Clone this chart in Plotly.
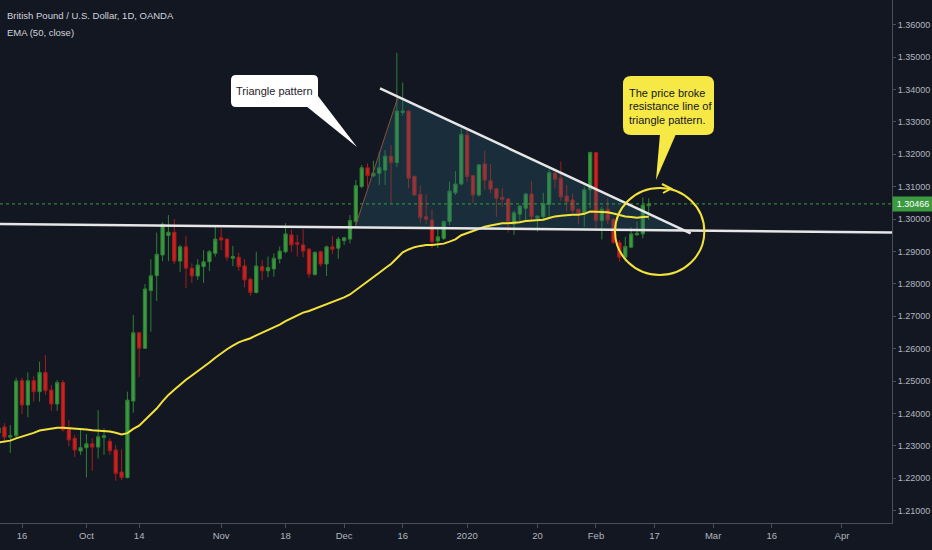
import plotly.graph_objects as go

# ---------------- data ----------------
dates = [
    "2019-09-10", "2019-09-11", "2019-09-12", "2019-09-13", "2019-09-16", "2019-09-17", "2019-09-18",
    "2019-09-19", "2019-09-20", "2019-09-23", "2019-09-24", "2019-09-25", "2019-09-26", "2019-09-27",
    "2019-09-30",
    "2019-10-01", "2019-10-02", "2019-10-03", "2019-10-04", "2019-10-07", "2019-10-08", "2019-10-09",
    "2019-10-10", "2019-10-11", "2019-10-14", "2019-10-15", "2019-10-16", "2019-10-17", "2019-10-18",
    "2019-10-21", "2019-10-22", "2019-10-23", "2019-10-24", "2019-10-25", "2019-10-28", "2019-10-29",
    "2019-10-30", "2019-10-31",
    "2019-11-01", "2019-11-04", "2019-11-05", "2019-11-06", "2019-11-07", "2019-11-08", "2019-11-11",
    "2019-11-12", "2019-11-13", "2019-11-14", "2019-11-15", "2019-11-18", "2019-11-19", "2019-11-20",
    "2019-11-21", "2019-11-22", "2019-11-25", "2019-11-26", "2019-11-27", "2019-11-28", "2019-11-29",
    "2019-12-02", "2019-12-03", "2019-12-04", "2019-12-05", "2019-12-06", "2019-12-09", "2019-12-10",
    "2019-12-11", "2019-12-12", "2019-12-13", "2019-12-16", "2019-12-17", "2019-12-18", "2019-12-19",
    "2019-12-20", "2019-12-23", "2019-12-24", "2019-12-26", "2019-12-27", "2019-12-30", "2019-12-31",
    "2020-01-02", "2020-01-03", "2020-01-06", "2020-01-07", "2020-01-08", "2020-01-09", "2020-01-10",
    "2020-01-13", "2020-01-14", "2020-01-15", "2020-01-16", "2020-01-17", "2020-01-20", "2020-01-21",
    "2020-01-22", "2020-01-23", "2020-01-24", "2020-01-27", "2020-01-28", "2020-01-29", "2020-01-30",
    "2020-01-31",
    "2020-02-03", "2020-02-04", "2020-02-05", "2020-02-06", "2020-02-07", "2020-02-10", "2020-02-11",
    "2020-02-12", "2020-02-13", "2020-02-14",
]

opens = [
    1.2340, 1.2358, 1.2327, 1.2331, 1.2501, 1.2426, 1.2501, 1.2467, 1.2526, 1.2472, 1.2429, 1.2495, 1.2351, 1.2323, 1.2284,
    1.2294, 1.2306, 1.2296, 1.2326, 1.2314, 1.2287, 1.2219, 1.2202, 1.2438, 1.2649, 1.2601, 1.2779, 1.2825, 1.2889,
    1.2949, 1.2959, 1.2870, 1.2914, 1.2848, 1.2824, 1.2853, 1.2868, 1.2894,
    1.2942, 1.2938, 1.2879, 1.2882, 1.2855, 1.2814, 1.2773, 1.2853, 1.2840, 1.2846, 1.2877, 1.2899, 1.2951, 1.2927,
    1.2920, 1.2907, 1.2829, 1.2899, 1.2861, 1.2914, 1.2910,
    1.2933, 1.2938, 1.2992, 1.3100, 1.3158, 1.3133, 1.3141, 1.3151, 1.3194, 1.3174, 1.3329, 1.3333, 1.3131, 1.3076,
    1.3007, 1.2997, 1.2932, 1.2940, 1.2992, 1.3081, 1.3108,
    1.3259, 1.3134, 1.3074, 1.3170, 1.3118, 1.3093, 1.3067, 1.3062, 1.2984, 1.3015, 1.3033, 1.3077, 1.3002, 1.3007,
    1.3045, 1.3141, 1.3126, 1.3071, 1.3059, 1.3030, 1.3018, 1.3090,
    1.3205, 1.2995, 1.3030, 1.2999, 1.2927, 1.2882, 1.2913, 1.2951, 1.2954, 1.3041,
]
highs = [
    1.2365, 1.2370, 1.2364, 1.2510, 1.2510, 1.2527, 1.2515, 1.2560, 1.2580, 1.2488, 1.2503, 1.2503, 1.2380, 1.2333, 1.2349,
    1.2336, 1.2323, 1.2410, 1.2354, 1.2323, 1.2302, 1.2289, 1.2467, 1.2704, 1.2651, 1.2799, 1.2876, 1.2958, 1.2989,
    1.3012, 1.3000, 1.2920, 1.2948, 1.2863, 1.2876, 1.2904, 1.2904, 1.2976,
    1.2971, 1.2940, 1.2917, 1.2896, 1.2876, 1.2819, 1.2899, 1.2873, 1.2884, 1.2894, 1.2915, 1.2987, 1.2968, 1.2951,
    1.2968, 1.2910, 1.2900, 1.2902, 1.2918, 1.2948, 1.2945,
    1.2945, 1.3012, 1.3120, 1.3167, 1.3172, 1.3180, 1.3208, 1.3213, 1.3228, 1.3513, 1.3421, 1.3336, 1.3135, 1.3103,
    1.3076, 1.3030, 1.2971, 1.2995, 1.3115, 1.3148, 1.3280,
    1.3275, 1.3136, 1.3170, 1.3211, 1.3170, 1.3095, 1.3095, 1.3064, 1.3026, 1.3043, 1.3081, 1.3117, 1.3010, 1.3081,
    1.3153, 1.3146, 1.3177, 1.3105, 1.3079, 1.3032, 1.3100, 1.3208,
    1.3207, 1.3038, 1.3064, 1.3001, 1.2935, 1.2945, 1.2974, 1.2992, 1.3067, 1.3064,
]
lows = [
    1.2328, 1.2309, 1.2278, 1.2322, 1.2398, 1.2388, 1.2436, 1.2436, 1.2457, 1.2408, 1.2408, 1.2344, 1.2299, 1.2266, 1.2272,
    1.2202, 1.2223, 1.2261, 1.2272, 1.2272, 1.2192, 1.2194, 1.2199, 1.2402, 1.2513, 1.2599, 1.2652, 1.2747, 1.2870,
    1.2870, 1.2861, 1.2837, 1.2786, 1.2802, 1.2812, 1.2803, 1.2839, 1.2884,
    1.2904, 1.2871, 1.2855, 1.2840, 1.2789, 1.2763, 1.2770, 1.2812, 1.2820, 1.2822, 1.2863, 1.2894, 1.2899, 1.2884,
    1.2882, 1.2819, 1.2825, 1.2853, 1.2824, 1.2892, 1.2877,
    1.2920, 1.2925, 1.2981, 1.3095, 1.3097, 1.3130, 1.3105, 1.3105, 1.3048, 1.3160, 1.3319, 1.3095, 1.3072, 1.2987,
    1.2984, 1.2910, 1.2910, 1.2935, 1.2981, 1.3074, 1.3104,
    1.3115, 1.3050, 1.3069, 1.3090, 1.3079, 1.3007, 1.3038, 1.2958, 1.2951, 1.2992, 1.2997, 1.2992, 1.2961, 1.2997,
    1.3007, 1.3095, 1.3056, 1.3023, 1.3019, 1.2985, 1.2976, 1.3033,
    1.2968, 1.2937, 1.2985, 1.2925, 1.2868, 1.2868, 1.2910, 1.2949, 1.2940, 1.2997,
]
closes = [
    1.2355, 1.2327, 1.2331, 1.2500, 1.2426, 1.2501, 1.2467, 1.2526, 1.2470, 1.2429, 1.2495, 1.2349, 1.2318, 1.2287, 1.2294,
    1.2306, 1.2296, 1.2328, 1.2331, 1.2285, 1.2215, 1.2202, 1.2441, 1.2649, 1.2601, 1.2784, 1.2825, 1.2891, 1.2984,
    1.2959, 1.2870, 1.2914, 1.2848, 1.2824, 1.2858, 1.2868, 1.2899, 1.2938,
    1.2935, 1.2882, 1.2884, 1.2853, 1.2812, 1.2773, 1.2855, 1.2840, 1.2850, 1.2879, 1.2901, 1.2954, 1.2920, 1.2922,
    1.2901, 1.2830, 1.2897, 1.2861, 1.2914, 1.2907, 1.2938,
    1.2942, 1.2995, 1.3103, 1.3158, 1.3134, 1.3141, 1.3158, 1.3194, 1.3174, 1.3333, 1.3333, 1.3126, 1.3074, 1.3004,
    1.2999, 1.2930, 1.2945, 1.2992, 1.3086, 1.3108, 1.3261,
    1.3131, 1.3074, 1.3167, 1.3120, 1.3092, 1.3064, 1.3061, 1.2992, 1.3019, 1.3040, 1.3077, 1.3007, 1.3009, 1.3048,
    1.3143, 1.3123, 1.3069, 1.3053, 1.3026, 1.3018, 1.3090, 1.3205,
    1.2995, 1.3030, 1.2997, 1.2927, 1.2882, 1.2915, 1.2954, 1.2956, 1.3043, 1.30466,
]
ema50 = [
    1.2310, 1.2313, 1.2316, 1.2323, 1.2328, 1.2335, 1.2340, 1.2347, 1.2350, 1.2353, 1.2356, 1.2356, 1.2355, 1.2353, 1.2351,
    1.2350, 1.2348, 1.2347, 1.2346, 1.2344, 1.2340, 1.2335, 1.2339, 1.2352, 1.2362, 1.2379, 1.2396, 1.2415, 1.2437,
    1.2457, 1.2473, 1.2490, 1.2504, 1.2517, 1.2530, 1.2543, 1.2557, 1.2572,
    1.2586, 1.2598, 1.2609, 1.2619, 1.2626, 1.2632, 1.2641, 1.2649, 1.2656, 1.2665, 1.2674, 1.2685, 1.2694, 1.2703,
    1.2711, 1.2716, 1.2723, 1.2728, 1.2736, 1.2742, 1.2750,
    1.2758, 1.2767, 1.2780, 1.2795, 1.2808, 1.2821, 1.2834, 1.2848, 1.2861, 1.2879, 1.2897, 1.2906, 1.2913, 1.2917,
    1.2920, 1.2920, 1.2921, 1.2924, 1.2930, 1.2937, 1.2950,
    1.2957, 1.2962, 1.2970, 1.2976, 1.2980, 1.2984, 1.2987, 1.2987, 1.2988, 1.2990, 1.2994, 1.2995, 1.2996, 1.2998,
    1.3003, 1.3008, 1.3010, 1.3012, 1.3013, 1.3013, 1.3016, 1.3023,
    1.3022, 1.3022, 1.3021, 1.3017, 1.3012, 1.3008, 1.3006, 1.3004, 1.3006, 1.3007,
]
last_price = 1.30466

x_tick_vals = ["2019-09-16", "2019-10-01", "2019-10-14", "2019-11-01", "2019-11-18", "2019-12-02", "2019-12-16",
               "2020-01-02", "2020-01-20", "2020-02-03", "2020-02-17", "2020-03-02", "2020-03-16", "2020-04-01"]
x_tick_text = ["16", "Oct", "14", "Nov", "18", "Dec", "16", "2020", "20", "Feb", "17", "Mar", "16", "Apr"]
y_tick_vals = [1.21, 1.22, 1.23, 1.24, 1.25, 1.26, 1.27, 1.28, 1.29, 1.30, 1.31, 1.32, 1.33, 1.34, 1.35, 1.36]
y_tick_text = ["%.5f" % v for v in y_tick_vals]
holidays = ["2019-12-25", "2020-01-01"]

# drawings (date, price)
x_view = ["2019-09-10 05:51", "2020-04-13 12:58"]
support_line = [("2019-09-10 05:51", 1.29846), ("2020-04-13 12:58", 1.29583)]
resistance_line = [("2019-12-10 02:53", 1.34034), ("2020-02-25 04:05", 1.29559)]
triangle_pts = [("2019-12-03 20:38", 1.29741), ("2019-12-13 04:48", 1.33775), ("2020-02-24 03:50", 1.29645)]
ellipse_box = [("2020-02-06 06:00", 1.28272), ("2020-02-27 12:00", 1.30957)]

assert len(dates) == len(opens) == len(highs) == len(lows) == len(closes) == len(ema50)

# ---------------- layout helpers ----------------
W, H = 932, 550
ML, MR, MT, MB = 0, 40, 0, 27
PW, PH = W - ML - MR, H - MT - MB
BG = "#131722"
FONT = "Liberation Sans, Arial, sans-serif"


def px(x):
    return x / PW


def py(y):
    return 1 - y / PH


def rrect(x0, y0, x1, y1, r):
    rx, ry = r / PW, r / PH
    a, b, c, d = px(x0), py(y0), px(x1), py(y1)
    return (f"M {a+rx},{b} L {c-rx},{b} Q {c},{b} {c},{b-ry} L {c},{d+ry} Q {c},{d} {c-rx},{d} "
            f"L {a+rx},{d} Q {a},{d} {a},{d+ry} L {a},{b-ry} Q {a},{b} {a+rx},{b} Z")


def poly(pts):
    return "M " + " L ".join(f"{px(x)},{py(y)}" for x, y in pts) + " Z"


fig = go.Figure()

# triangle fill (no outline)
fig.add_trace(go.Scatter(
    x=[p[0] for p in triangle_pts] + [triangle_pts[0][0]],
    y=[p[1] for p in triangle_pts] + [triangle_pts[0][1]],
    mode="lines", fill="toself", fillcolor="rgba(40,100,115,0.30)",
    line=dict(color="rgba(0,0,0,0)", width=0), hoverinfo="skip", showlegend=False))
# left edge of the triangle drawing
fig.add_trace(go.Scatter(
    x=[triangle_pts[0][0], triangle_pts[1][0]], y=[triangle_pts[0][1], triangle_pts[1][1]],
    mode="lines", line=dict(color="#8a5040", width=1), hoverinfo="skip", showlegend=False))

fig.add_trace(go.Candlestick(
    x=dates, open=opens, high=highs, low=lows, close=closes,
    increasing=dict(line=dict(color="#2f8034", width=1), fillcolor="#3a9a3f"),
    decreasing=dict(line=dict(color="#a51d1d", width=1), fillcolor="#c9221f"),
    whiskerwidth=0, showlegend=False, name="GBPUSD"))

fig.add_trace(go.Scatter(x=dates, y=ema50, mode="lines", line=dict(color="#f3e23a", width=2),
                         showlegend=False, hoverinfo="skip", name="EMA 50"))

shapes = []
shapes.append(dict(type="line", xref="paper", yref="y", x0=0, x1=1, y0=last_price, y1=last_price,
                   line=dict(color="#3c9a40", width=1, dash="dot")))
for ln in (support_line, resistance_line):
    shapes.append(dict(type="line", xref="x", yref="y", x0=ln[0][0], y0=ln[0][1], x1=ln[1][0], y1=ln[1][1],
                       line=dict(color="#e6e6e6", width=2.5)))
shapes.append(dict(type="circle", xref="x", yref="y", x0=ellipse_box[0][0], y0=ellipse_box[0][1],
                   x1=ellipse_box[1][0], y1=ellipse_box[1][1], line=dict(color="#f3e23a", width=2)))
shapes.append(dict(type="path", xref="paper", yref="paper",
                   path=f"M {px(662)},{py(184)} L {px(671)},{py(188.5)} L {px(663)},{py(193)}",
                   line=dict(color="#f3e23a", width=2)))
# callout 1
shapes.append(dict(type="path", xref="paper", yref="paper", path=poly([(306, 106), (318, 96), (357, 147)]),
                   fillcolor="#ffffff", line=dict(width=0)))
shapes.append(dict(type="path", xref="paper", yref="paper", path=rrect(231, 75, 318, 107, 5),
                   fillcolor="#ffffff", line=dict(width=0)))
# callout 2
shapes.append(dict(type="path", xref="paper", yref="paper", path=poly([(660, 134), (676, 134), (656, 180)]),
                   fillcolor="#f6e845", line=dict(width=0)))
shapes.append(dict(type="path", xref="paper", yref="paper", path=rrect(623, 76, 714, 135, 8),
                   fillcolor="#f6e845", line=dict(width=0)))

annotations = [
    dict(xref="paper", yref="paper", x=px(5), y=py(16), xanchor="left", yanchor="middle",
         text="British Pound / U.S. Dollar, 1D, OANDA", showarrow=False,
         font=dict(family=FONT, size=9.5, color="#d1d4dc")),
    dict(xref="paper", yref="paper", x=px(5), y=py(32), xanchor="left", yanchor="middle",
         text="EMA (50, close)", showarrow=False, font=dict(family=FONT, size=9.5, color="#d1d4dc")),
    dict(xref="paper", yref="paper", x=px(274.5), y=py(91), xanchor="center", yanchor="middle",
         text="Triangle pattern", showarrow=False, font=dict(family=FONT, size=11, color="#1e222d")),
    dict(xref="paper", yref="paper", x=px(627), y=py(92.7), xanchor="left", yanchor="middle",
         text="The price broke", showarrow=False, font=dict(family=FONT, size=11, color="#131722")),
    dict(xref="paper", yref="paper", x=px(627), y=py(106.5), xanchor="left", yanchor="middle",
         text="resistance line of", showarrow=False, font=dict(family=FONT, size=11, color="#131722")),
    dict(xref="paper", yref="paper", x=px(627), y=py(120), xanchor="left", yanchor="middle",
         text="triangle pattern.", showarrow=False, font=dict(family=FONT, size=11, color="#131722")),
    dict(xref="paper", yref="y", x=1, y=last_price, xanchor="left", yanchor="middle",
         text="%.5f" % last_price, showarrow=False, bgcolor="#3c9a40", borderpad=2, width=36,
         font=dict(family=FONT, size=9, color="#ffffff")),
]

axis_col = "#4a4e59"
fig.update_layout(
    width=W, height=H, margin=dict(l=ML, r=MR, t=MT, b=MB),
    paper_bgcolor=BG, plot_bgcolor=BG, showlegend=False, boxgap=0.2,
    shapes=shapes, annotations=annotations,
    xaxis=dict(type="date", range=x_view,
               rangebreaks=[dict(bounds=["sat", "mon"]), dict(values=holidays)],
               rangeslider=dict(visible=False), tickvals=x_tick_vals, ticktext=x_tick_text,
               showgrid=False, zeroline=False, ticks="outside", ticklen=4, tickcolor=axis_col,
               showline=True, linecolor=axis_col, linewidth=1,
               tickfont=dict(family=FONT, size=9.5, color="#b2b5be")),
    yaxis=dict(side="right", range=[1.30 - 304 / 3240, 1.30 + 219 / 3240],
               tickvals=y_tick_vals, ticktext=y_tick_text, showgrid=False, zeroline=False,
               ticks="outside", ticklen=3, tickcolor=axis_col, showline=True, linecolor=axis_col,
               linewidth=1, tickfont=dict(family=FONT, size=9, color="#b2b5be")),
)

fig.write_html("out.html", config={"displayModeBar": False},
               post_script="document.body.style.margin='0';document.body.style.padding='0';"
                           "document.documentElement.style.overflow='hidden';")
